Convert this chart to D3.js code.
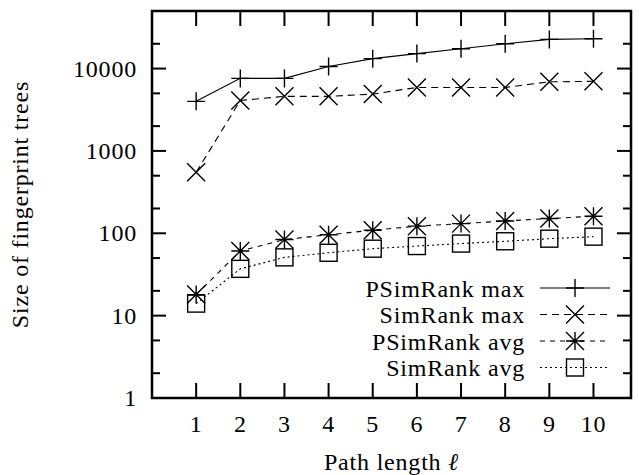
<!DOCTYPE html>
<html>
<head>
<meta charset="utf-8">
<script src="https://cdn.jsdelivr.net/npm/d3@7"></script>
<style>
  body { margin: 0; background: #fff; }
  svg text { font-family: "Liberation Serif", "DejaVu Serif", serif; }
</style>
</head>
<body>
<div id="chart"></div>
<script>
// Path length values (x axis)
const pathLengths = [1, 2, 3, 4, 5, 6, 7, 8, 9, 10];

// Series values (log scale)
const psimrankMax = [4000, 7600, 7600, 10600, 13200, 15200, 17400, 20000, 22600, 23000];
const simrankMax = [550, 4100, 4600, 4600, 4900, 5900, 5900, 5900, 6900, 7000];
const psimrankAvg = [18, 61, 84, 96, 109, 122, 131, 141, 151, 161];
const simrankAvg = [14, 37, 51, 58, 65, 70, 75, 80, 86, 91];

const seriesNames = ['PSimRank max', 'SimRank max', 'PSimRank avg', 'SimRank avg'];
const yTickValues = [1, 10, 100, 1000, 10000];

const series = [
  { name: seriesNames[0], values: psimrankMax, dash: null, marker: 'plus' },
  { name: seriesNames[1], values: simrankMax, dash: '7,5', marker: 'cross' },
  { name: seriesNames[2], values: psimrankAvg, dash: '5,5', marker: 'star' },
  { name: seriesNames[3], values: simrankAvg, dash: '2,3', marker: 'square' }
];

const FONT = '"Liberation Serif", "DejaVu Serif", serif';
const FS = '24px';
const LS = '0.8px';

const W = 639, H = 475;
const margin = { top: 11, right: 8, bottom: 77, left: 152 };
const width = W - margin.left - margin.right;
const height = H - margin.top - margin.bottom;

const svg = d3.select('#chart').append('svg')
  .attr('width', W)
  .attr('height', H);

const g = svg.append('g')
  .attr('transform', `translate(${margin.left},${margin.top})`);

const x = d3.scaleLinear().domain([0, 10.85]).range([0, width]);
const y = d3.scaleLog().domain([1, 50000]).range([height, 0]);

// minor ticks at 2 and 5 of each decade
const minorTicks = [];
for (let d = 1; d <= 10000; d *= 10) {
  [2, 5].forEach(m => { if (d * m < 50000) minorTicks.push(d * m); });
}

// x ticks bottom + top
pathLengths.forEach(v => {
  g.append('line').attr('x1', x(v)).attr('x2', x(v)).attr('y1', height).attr('y2', height - 15)
    .attr('stroke', '#000').attr('stroke-width', 2);
  g.append('line').attr('x1', x(v)).attr('x2', x(v)).attr('y1', 0).attr('y2', 15)
    .attr('stroke', '#000').attr('stroke-width', 2);
});
// y ticks left + right
yTickValues.forEach(v => {
  g.append('line').attr('x1', 0).attr('x2', 14).attr('y1', y(v)).attr('y2', y(v))
    .attr('stroke', '#000').attr('stroke-width', 2);
  g.append('line').attr('x1', width).attr('x2', width - 14).attr('y1', y(v)).attr('y2', y(v))
    .attr('stroke', '#000').attr('stroke-width', 2);
});
minorTicks.forEach(v => {
  g.append('line').attr('x1', 0).attr('x2', 8).attr('y1', y(v)).attr('y2', y(v))
    .attr('stroke', '#000').attr('stroke-width', 2);
  g.append('line').attr('x1', width).attr('x2', width - 8).attr('y1', y(v)).attr('y2', y(v))
    .attr('stroke', '#000').attr('stroke-width', 2);
});

function txt(sel) {
  return sel.style('font-family', FONT).attr('font-size', FS).attr('letter-spacing', LS).attr('fill', '#000');
}

// tick labels
g.selectAll('.xlab').data(pathLengths).enter().append('text')
  .attr('class', 'xlab')
  .attr('x', d => x(d))
  .attr('y', height + 34)
  .attr('text-anchor', 'middle')
  .call(txt)
  .text(d => d);

g.selectAll('.ylab').data(yTickValues).enter().append('text')
  .attr('class', 'ylab')
  .attr('x', -15)
  .attr('y', d => y(d) + 8)
  .attr('text-anchor', 'end')
  .call(txt)
  .text(d => d);

// axis titles
svg.append('text')
  .attr('x', margin.left + width / 2)
  .attr('y', 470)
  .attr('text-anchor', 'middle')
  .call(txt)
  .html('Path length <tspan font-style="italic">ℓ</tspan>');

svg.append('text')
  .attr('transform', 'rotate(-90)')
  .attr('x', -(margin.top + height / 2))
  .attr('y', 28)
  .attr('text-anchor', 'middle')
  .call(txt)
  .text('Size of fingerprint trees');

function drawMarker(sel, type, cx, cy) {
  const s = 9;
  if (type === 'plus') {
    sel.append('path').attr('d', `M${cx - s},${cy}H${cx + s}M${cx},${cy - s}V${cy + s}`);
  } else if (type === 'cross') {
    sel.append('path').attr('d', `M${cx - s},${cy - s}L${cx + s},${cy + s}M${cx - s},${cy + s}L${cx + s},${cy - s}`);
  } else if (type === 'star') {
    sel.append('path').attr('d', `M${cx - s},${cy}H${cx + s}M${cx},${cy - s}V${cy + s}M${cx - s},${cy - s}L${cx + s},${cy + s}M${cx - s},${cy + s}L${cx + s},${cy - s}`);
  } else if (type === 'square') {
    sel.append('rect').attr('x', cx - 8.5).attr('y', cy - 8.5).attr('width', 17).attr('height', 17)
      .attr('fill', 'none');
  }
}

const line = d3.line()
  .x((d, i) => x(pathLengths[i]))
  .y(d => y(d));

series.forEach(s => {
  g.append('path')
    .datum(s.values)
    .attr('fill', 'none')
    .attr('stroke', '#000')
    .attr('stroke-width', 1.1)
    .attr('stroke-dasharray', s.dash)
    .attr('d', line);
  const mg = g.append('g').attr('stroke', '#000').attr('stroke-width', 1.4).attr('fill', 'none');
  s.values.forEach((v, i) => drawMarker(mg, s.marker, x(pathLengths[i]), y(v)));
});

// legend
const legend = svg.append('g');
series.forEach((s, i) => {
  const ly = 288 + i * 26.5;
  legend.append('text')
    .attr('x', 525)
    .attr('y', ly + 8.5)
    .attr('text-anchor', 'end')
    .call(txt)
    .text(s.name);
  legend.append('line')
    .attr('x1', 540).attr('x2', 610).attr('y1', ly).attr('y2', ly)
    .attr('stroke', '#000').attr('stroke-width', 1.1)
    .attr('stroke-dasharray', s.dash);
  const mg = legend.append('g').attr('stroke', '#000').attr('stroke-width', 1.4).attr('fill', 'none');
  drawMarker(mg, s.marker, 575, ly);
});

// frame
g.append('rect')
  .attr('x', 0).attr('y', 0).attr('width', width).attr('height', height)
  .attr('fill', 'none').attr('stroke', '#000').attr('stroke-width', 2.5);
</script>
</body>
</html>
